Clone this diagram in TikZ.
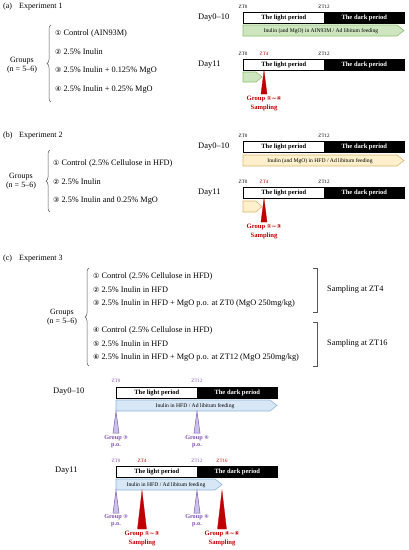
\documentclass[tikz,border=0pt]{standalone}
\usepackage{fontspec}
\setmainfont{Liberation Serif}
\newfontfamily\cfont{DejaVu Sans}
\usetikzlibrary{decorations.pathreplacing}
\newcommand\cn[1]{{\cfont\scalebox{0.85}{#1}}}
\newcommand\tld{{\cfont\scalebox{0.9}{∼}}}
\definecolor{gfill}{HTML}{CDE6BF}
\definecolor{gdraw}{HTML}{8DBF6E}
\definecolor{yfill}{HTML}{FEF0CC}
\definecolor{ydraw}{HTML}{D9B46E}
\definecolor{bfill}{HTML}{D7E7F6}
\definecolor{bdraw}{HTML}{8FB4D9}
\definecolor{pfill}{HTML}{CBC1EA}
\definecolor{pdraw}{HTML}{7F5FAE}
\definecolor{ptext}{HTML}{8050B0}
\definecolor{rcol}{HTML}{C00000}
\definecolor{brgray}{HTML}{555555}
\begin{document}
\begin{tikzpicture}[x=1pt,y=-1pt,
  head/.style={font=\fontsize{8}{9}\selectfont, anchor=west, inner sep=0},
  itm/.style={font=\fontsize{8.3}{9}\selectfont, anchor=west, inner sep=0},
  grp/.style={font=\fontsize{8}{9}\selectfont, align=center, inner sep=0},
  day/.style={font=\fontsize{8.5}{9}\selectfont, anchor=west, inner sep=0},
  zt/.style={font=\fontsize{5}{5}\selectfont, inner sep=0},
  ztr/.style={zt, text=rcol},
  ztp/.style={zt, text=ptext},
  lightbar/.style={draw=black, fill=white, line width=0.6pt, inner sep=0, anchor=north west,
    minimum height=11pt, font=\bfseries\fontsize{6.5}{7}\selectfont},
  darkbar/.style={lightbar, fill=black, text=white},
  arrtxt/.style={font=\fontsize{5.6}{6}\selectfont, inner sep=0},
  brc/.style={draw=brgray, line width=0.5pt, decorate, decoration={brace, amplitude=4pt}},
  brk/.style={draw=brgray, line width=0.5pt},
  garr/.style={fill=gfill, draw=gdraw, line width=0.6pt},
  yarr/.style={fill=yfill, draw=ydraw, line width=0.6pt},
  barr/.style={fill=bfill, draw=bdraw, line width=0.6pt},
  rtri/.style={fill=rcol, draw=rcol, line width=0.3pt},
  ptri/.style={fill=pfill, draw=pdraw, line width=0.5pt},
  rlab/.style={font=\bfseries\fontsize{6.6}{8.5}\selectfont, text=rcol, align=center, inner sep=0, anchor=north},
  plab/.style={font=\bfseries\fontsize{6.2}{7.5}\selectfont, text=ptext, align=center, inner sep=0, anchor=north}
]
\useasboundingbox (0,0) rectangle (408,550);

% ================= (a) =================
\node[head] (ha) at (3,7) {(a)};
\node[head] (hae) at (19,7) {Experiment 1};
\node[grp] (ga) at (22,65) {Groups\\(n = 5--6)};
\draw[brc] (51,102) -- (51,25);
\node[itm] (a1) at (55,33) {\cn{①} Control (AIN93M)};
\node[itm] (a2) at (55,52) {\cn{②} 2.5\% Inulin};
\node[itm] (a3) at (55,71) {\cn{③} 2.5\% Inulin + 0.125\% MgO};
\node[itm] (a4) at (55,90) {\cn{④} 2.5\% Inulin + 0.25\% MgO};

\node[day] (ad1) at (198,18) {Day0--10};
\node[zt] (az0) at (243,7) {ZT0};
\node[zt] (az12) at (324,7) {ZT12};
\node[lightbar, minimum width=81pt] (aL1) at (243,12) {The light period};
\node[darkbar, minimum width=80pt] (aD1) at (324,12) {The dark period};
\draw[garr] (243,25) -- (397,25) -- (404,30.5) -- (397,36) -- (243,36) -- cycle;
\node[arrtxt] (aa1) at (321,30.7) {Inulin (and MgO) in AIN93M / Ad libitum feeding};

\node[day] (ad2) at (198,65) {Day11};
\node[zt] (az0b) at (243,54) {ZT0};
\node[ztr] (az4b) at (264,54) {ZT4};
\node[zt] (az12b) at (324,54) {ZT12};
\node[lightbar, minimum width=81pt] (aL2) at (243,59) {The light period};
\node[darkbar, minimum width=80pt] (aD2) at (324,59) {The dark period};
\draw[garr] (243,72) -- (256,72) -- (262,77) -- (256,82) -- (243,82) -- cycle;
\draw[rtri] (264,70.5) -- (261,94) -- (267,94) -- cycle;
\node[rlab] (as) at (264,96) {Group \cn{①}\tld\cn{④}\\Sampling};

% ================= (b) =================
\node[head] (hb) at (3,136) {(b)};
\node[head] (hbe) at (19,136) {Experiment 2};
\node[grp] (gb) at (21,181.5) {Groups\\(n = 5--6)};
\draw[brc] (50,212) -- (50,150);
\node[itm] (b1) at (53,163) {\cn{①} Control (2.5\% Cellulose in HFD)};
\node[itm] (b2) at (53,182) {\cn{②} 2.5\% Inulin};
\node[itm] (b3) at (53,201) {\cn{③} 2.5\% Inulin and 0.25\% MgO};

\node[day] (bd1) at (198,147) {Day0--10};
\node[zt] (bz0) at (243,136) {ZT0};
\node[zt] (bz12) at (324,136) {ZT12};
\node[lightbar, minimum width=81pt] (bL1) at (243,141) {The light period};
\node[darkbar, minimum width=80pt] (bD1) at (324,141) {The dark period};
\draw[yarr] (243,155) -- (397,155) -- (404,160.5) -- (397,166) -- (243,166) -- cycle;
\node[arrtxt] (ba1) at (320,160.7) {Inulin (and MgO) in HFD / Ad libitum feeding};

\node[day] (bd2) at (198,193) {Day11};
\node[zt] (bz0b) at (243,182) {ZT0};
\node[ztr] (bz4b) at (264,182) {ZT4};
\node[zt] (bz12b) at (324,182) {ZT12};
\node[lightbar, minimum width=81pt] (bL2) at (243,187) {The light period};
\node[darkbar, minimum width=80pt] (bD2) at (324,187) {The dark period};
\draw[yarr] (243,201) -- (256,201) -- (262,206.5) -- (256,212) -- (243,212) -- cycle;
\draw[rtri] (264,198.5) -- (261,222) -- (267,222) -- cycle;
\node[rlab] (bs) at (264,224) {Group \cn{①}\tld\cn{③}\\Sampling};

% ================= (c) =================
\node[head] (hc) at (3,259) {(c)};
\node[head] (hce) at (19,259) {Experiment 3};
\node[grp] (gc) at (62,317) {Groups\\(n = 5--6)};
\draw[brc] (89,366) -- (89,268);
\node[itm] (c1) at (93,276) {\cn{①} Control (2.5\% Cellulose in HFD)};
\node[itm] (c2) at (93,290) {\cn{②} 2.5\% Inulin in HFD};
\node[itm] (c3) at (93,304) {\cn{③} 2.5\% Inulin in HFD + MgO p.o. at ZT0 (MgO 250mg/kg)};
\node[itm] (c4) at (93,330) {\cn{④} Control (2.5\% Cellulose in HFD)};
\node[itm] (c5) at (93,344) {\cn{⑤} 2.5\% Inulin in HFD};
\node[itm] (c6) at (93,358) {\cn{⑥} 2.5\% Inulin in HFD + MgO p.o. at ZT12 (MgO 250mg/kg)};
\draw[brk] (313,268) -- (317,268) -- (317,312) -- (313,312);
\draw[brk] (313,322) -- (317,322) -- (317,366) -- (313,366);
\node[itm] (s4) at (327,290) {Sampling at ZT4};
\node[itm] (s16) at (327,344) {Sampling at ZT16};

\node[day] (cd1) at (53,392) {Day0--10};
\node[ztp] (cz0) at (116,381) {ZT0};
\node[ztp] (cz12) at (197,381) {ZT12};
\node[lightbar, minimum width=81pt] (cL1) at (116,387) {The light period};
\node[darkbar, minimum width=80pt] (cD1) at (197,387) {The dark period};
\draw[barr] (116,400) -- (270,400) -- (277,405.5) -- (270,411) -- (116,411) -- cycle;
\node[arrtxt] (ca1) at (195,405.7) {Inulin in HFD / Ad libitum feeding};
\draw[ptri] (116,411.5) -- (113,433) -- (119,433) -- cycle;
\draw[ptri] (197,411.5) -- (194,433) -- (200,433) -- cycle;
\node[plab] (cp3) at (116,435) {Group \cn{③}\\p.o.};
\node[plab] (cp6) at (197,435) {Group \cn{⑥}\\p.o.};

\node[day] (cd2) at (55,471) {Day11};
\node[ztp] (cz0b) at (116,461) {ZT0};
\node[ztr] (cz4b) at (142,461) {ZT4};
\node[ztp] (cz12b) at (197,461) {ZT12};
\node[ztr] (cz16b) at (222,461) {ZT16};
\node[lightbar, minimum width=81pt] (cL2) at (116,466) {The light period};
\node[darkbar, minimum width=80pt] (cD2) at (197,466) {The dark period};
\draw[barr] (116,479) -- (215,479) -- (222,484.5) -- (215,490) -- (116,490) -- cycle;
\node[arrtxt] (ca2) at (166,484.7) {Inulin in HFD / Ad libitum feeding};
\draw[ptri] (116,490.5) -- (113,513) -- (119,513) -- cycle;
\draw[ptri] (197,490.5) -- (194,513) -- (200,513) -- cycle;
\draw[rtri] (142,490.5) -- (137.5,529) -- (146.5,529) -- cycle;
\draw[rtri] (222,490.5) -- (217.5,529) -- (226.5,529) -- cycle;
\node[plab] (cp3b) at (116,514) {Group \cn{③}\\p.o.};
\node[plab] (cp6b) at (197,514) {Group \cn{⑥}\\p.o.};
\node[rlab] (cs1) at (142,531) {Group \cn{①}\tld\cn{③}\\Sampling};
\node[rlab] (cs2) at (222,531) {Group \cn{④}\tld\cn{⑥}\\Sampling};
\end{tikzpicture}
\end{document}
